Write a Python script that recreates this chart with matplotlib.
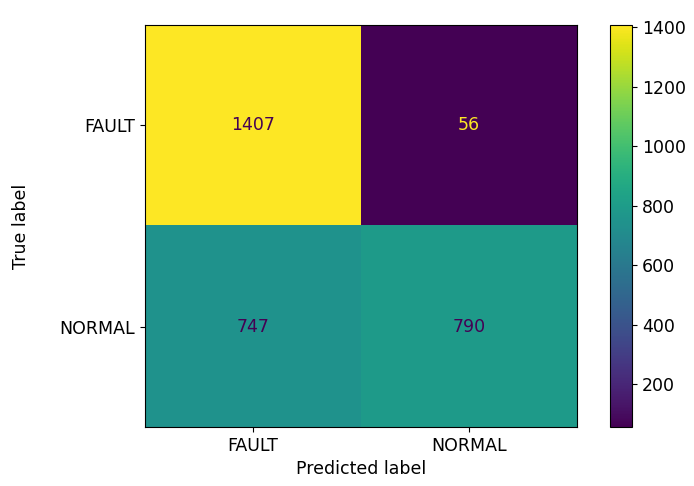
import numpy as np
import matplotlib
matplotlib.use("Agg")
import matplotlib.pyplot as plt

class_names = ["FAULT", "NORMAL"]
counts = np.array([[1407, 56],
                   [747, 790]])
cbar_ticks = [200, 400, 600, 800, 1000, 1200, 1400]

FS = 12.5

fig = plt.figure(figsize=(6.94, 4.86), dpi=100)
ax = fig.add_axes([145 / 694, 1 - 427 / 486, 432 / 694, 402 / 486])
cax = fig.add_axes([610 / 694, 1 - 427 / 486, 22 / 694, 402 / 486])

cmap = plt.get_cmap("viridis")
im = ax.imshow(counts, cmap=cmap, aspect="auto", interpolation="nearest")

thresh = (counts.max() + counts.min()) / 2.0
for i in range(counts.shape[0]):
    for j in range(counts.shape[1]):
        color = cmap(1.0) if counts[i, j] < thresh else cmap(0.0)
        ax.text(j, i, f"{counts[i, j]}", ha="center", va="center",
                color=color, fontsize=FS)

ax.set_xticks(range(len(class_names)))
ax.set_xticklabels(class_names, fontsize=FS)
ax.set_yticks(range(len(class_names)))
ax.set_yticklabels(class_names, fontsize=FS)
ax.set_xlabel("Predicted label", fontsize=FS)
ax.set_ylabel("True label", fontsize=FS)
ax.yaxis.set_label_coords(-0.266, 0.5)

cb = fig.colorbar(im, cax=cax)
cb.set_ticks(cbar_ticks)
cb.ax.tick_params(labelsize=FS)

fig.savefig("out.png", dpi=100)
